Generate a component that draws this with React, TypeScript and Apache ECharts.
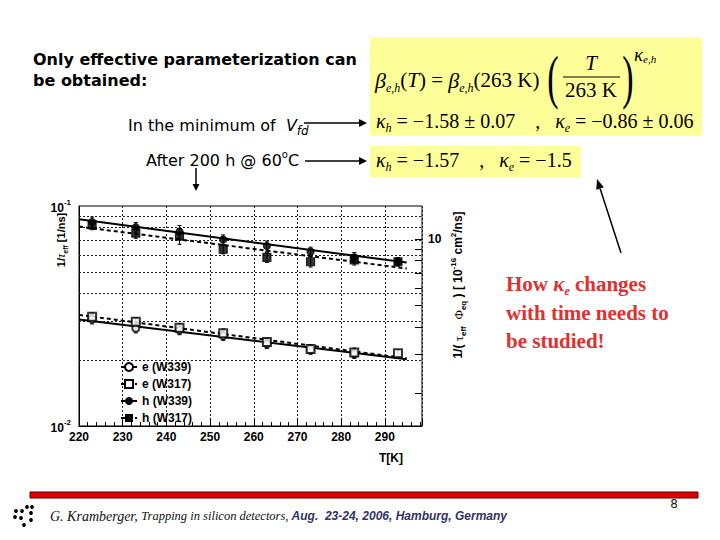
import React, { useEffect, useRef } from "react";
import * as echarts from "echarts";

// ---------- data ----------
const T_K = [223, 233, 243, 253, 263, 273, 283, 293];

const H339 = [0.0845, 0.0801, 0.0765, 0.0704, 0.0658, 0.062, 0.0584, 0.0558];
const H317 = [0.082, 0.0753, 0.073, 0.0636, 0.0584, 0.0558, 0.0569, 0.0558];
const E339 = [0.0306, 0.0278, 0.0273, 0.0257, 0.0236, 0.0222, 0.0213, null];
const E317 = [0.0314, 0.0298, 0.028, 0.0264, 0.0241, 0.0224, 0.0216, 0.0214];

const H339_ERR = [0.0045, 0.004, 0.005, 0.0035, 0.0035, 0.003, 0.003, 0.0025];
const H317_ERR = [0.004, 0.004, 0.006, 0.003, 0.003, 0.003, 0.003, 0.002];
const E339_ERR = [0.0015, 0.0013, 0.0013, 0.0012, 0.0011, 0.001, 0.001, null];
const E317_ERR = [0.0013, 0.0012, 0.0012, 0.0012, 0.001, 0.001, 0.001, 0.0008];

// fit lines: [T, value] at the ends of the drawn fits
const H339_FIT = [[220, 0.087], [295, 0.0553]];
const H317_FIT = [[220, 0.0806], [295, 0.052]];
const E339_FIT = [[220, 0.0305], [295, 0.0201]];
const E317_FIT = [[220, 0.032], [295, 0.0203]];

const SERIES_NAMES = ["e (W339)", "e (W317)", "h (W339)", "h (W317)"];
const X_TICKS_MIN = 220;
const X_MAX = 298.5;
const Y_MIN = 0.01;
const Y_MAX = 0.1;
const GRID_Y = [0.02, 0.03, 0.04, 0.05, 0.06, 0.07, 0.08, 0.09];
const RIGHT_MIN = 1.416;
const RIGHT_MAX = 14.16;
const RIGHT_TICKS = [2, 3, 4, 5, 6, 7, 8, 9, 10];
const RIGHT_LABELS = [10];

const AX_FONT = "Liberation Sans";
const SLIDE_FONT = "DejaVu Sans";
const SERIF = "Liberation Serif";

function pts(vals: (number | null)[]) {
  const out: number[][] = [];
  vals.forEach((v, i) => {
    if (v != null) out.push([T_K[i], v]);
  });
  return out;
}
function errs(vals: (number | null)[], e: (number | null)[]) {
  const out: number[][] = [];
  vals.forEach((v, i) => {
    const d = e[i];
    if (v != null && d != null) out.push([T_K[i], v - d, v + d]);
  });
  return out;
}

function renderErr(params: any, api: any) {
  const x = api.value(0);
  const p1 = api.coord([x, api.value(1)]);
  const p2 = api.coord([x, api.value(2)]);
  const st = { stroke: "#000", lineWidth: 1 };
  return {
    type: "group",
    children: [
      { type: "line", shape: { x1: p1[0], y1: p1[1], x2: p2[0], y2: p2[1] }, style: st },
      { type: "line", shape: { x1: p1[0] - 2, y1: p1[1], x2: p1[0] + 2, y2: p1[1] }, style: st },
      { type: "line", shape: { x1: p2[0] - 2, y1: p2[1], x2: p2[0] + 2, y2: p2[1] }, style: st },
    ],
  };
}

function arrow(x1: number, y1: number, x2: number, y2: number, head = 8, w = 4) {
  const ang = Math.atan2(y2 - y1, x2 - x1);
  const bx = x2 - head * Math.cos(ang);
  const by = y2 - head * Math.sin(ang);
  const nx = -Math.sin(ang) * w;
  const ny = Math.cos(ang) * w;
  return [
    { type: "line", shape: { x1, y1, x2: bx, y2: by }, style: { stroke: "#000", lineWidth: 1.5 } },
    {
      type: "polygon",
      shape: { points: [[x2, y2], [bx + nx, by + ny], [bx - nx, by - ny]] },
      style: { fill: "#000" },
    },
  ];
}

const kRich = (size: number) => ({
  k: { fontFamily: SERIF, fontSize: size, fontStyle: "italic", fill: "#000", lineHeight: 26, verticalAlign: "middle" },
  n: { fontFamily: SERIF, fontSize: size, fill: "#000", lineHeight: 26, verticalAlign: "middle" },
  s: { fontFamily: SERIF, fontSize: 12, fontStyle: "italic", fill: "#000", lineHeight: 12, verticalAlign: "bottom" },
});

export default function App() {
  const ref = useRef<HTMLDivElement>(null);
  useEffect(() => {
    const chart = echarts.init(ref.current!, null, { renderer: "svg" });

    const fitDefs = [
      { name: SERIES_NAMES[0], data: E339_FIT, dash: "solid", sym: "emptyCircle" },
      { name: SERIES_NAMES[1], data: E317_FIT, dash: [4, 3], sym: "emptyRect" },
      { name: SERIES_NAMES[2], data: H339_FIT, dash: "solid", sym: "circle" },
      { name: SERIES_NAMES[3], data: H317_FIT, dash: [4, 3], sym: "rect" },
    ];
    const ptDefs = [
      { name: SERIES_NAMES[0], v: E339, e: E339_ERR, sym: "emptyCircle", size: 7 },
      { name: SERIES_NAMES[1], v: E317, e: E317_ERR, sym: "emptyRect", size: 8 },
      { name: SERIES_NAMES[2], v: H339, e: H339_ERR, sym: "circle", size: 7 },
      { name: SERIES_NAMES[3], v: H317, e: H317_ERR, sym: "rect", size: 8 },
    ];

    const series: any[] = [];
    fitDefs.forEach((f, i) => {
      series.push({
        type: "line",
        name: f.name,
        data: f.data,
        showSymbol: false,
        symbol: f.sym,
        symbolSize: 7,
        color: "#000",
        itemStyle: { color: "#000", borderColor: "#000" },
        lineStyle: { color: "#000", width: 2, type: f.dash },
        z: 3,
        markLine:
          i === 0
            ? {
                silent: true,
                symbol: ["none", "none"],
                label: { show: false },
                lineStyle: { color: "#222", width: 1, type: [2, 2] },
                data: GRID_Y.map((y) => ({ yAxis: y })),
                z: 1,
              }
            : undefined,
      });
    });
    ptDefs.forEach((p) => {
      series.push({
        type: "custom",
        name: p.name,
        renderItem: renderErr,
        data: errs(p.v, p.e),
        encode: { x: 0, y: [1, 2] },
        z: 4,
      });
      series.push({
        type: "scatter",
        name: p.name,
        data: pts(p.v),
        symbol: p.sym,
        symbolSize: p.size,
        itemStyle: { color: "#000", borderColor: "#000", borderWidth: 1.2 },
        z: 5,
      });
    });

    const graphic: any[] = [
      // slide texts
      {
        type: "text",
        x: 33,
        y: 59,
        style: {
          text: "Only effective parameterization can",
          font: `bold 16px "${SLIDE_FONT}"`,
          fill: "#000",
          verticalAlign: "middle",
        },
      },
      {
        type: "text",
        x: 33,
        y: 80,
        style: {
          text: "be obtained:",
          font: `bold 16px "${SLIDE_FONT}"`,
          fill: "#000",
          verticalAlign: "middle",
        },
      },
      {
        type: "text",
        x: 128,
        y: 125,
        style: {
          text: "{n|In the minimum of  }{v|V}{s|fd}",
          verticalAlign: "middle",
          rich: {
            n: { fontFamily: SLIDE_FONT, fontSize: 16, fill: "#000", lineHeight: 24, verticalAlign: "middle" },
            v: { fontFamily: SLIDE_FONT, fontSize: 16, fontStyle: "italic", fill: "#000", lineHeight: 24, verticalAlign: "middle" },
            s: { fontFamily: SLIDE_FONT, fontSize: 12, fontStyle: "italic", fill: "#000", lineHeight: 12, verticalAlign: "bottom" },
          },
        },
      },
      {
        type: "text",
        x: 146,
        y: 160,
        style: {
          text: "{n|After 200 h @ 60}{o|o}{n|C}",
          verticalAlign: "middle",
          rich: {
            n: { fontFamily: SLIDE_FONT, fontSize: 16, fill: "#000", lineHeight: 22, verticalAlign: "middle" },
            o: { fontFamily: SLIDE_FONT, fontSize: 10, fill: "#000", lineHeight: 10, verticalAlign: "top" },
          },
        },
      },
      ...arrow(304, 123, 367, 123),
      ...arrow(305, 161, 367, 161),
      ...arrow(196, 168, 196, 191, 7, 3.5),
      // yellow boxes
      { type: "rect", shape: { x: 370, y: 37, width: 332, height: 98 }, style: { fill: "#FFFF99" }, z: -1 },
      { type: "rect", shape: { x: 370, y: 146, width: 211, height: 31 }, style: { fill: "#FFFF99" }, z: -1 },
      // formula
      {
        type: "text",
        x: 375,
        y: 80,
        style: {
          text: "{b|β}{s|e,h}{n|(}{i|T}{n|) = }{b|β}{s|e,h}{n|(263 K)}",
          verticalAlign: "middle",
          rich: {
            b: { fontFamily: SERIF, fontSize: 22, fontStyle: "italic", fill: "#000", lineHeight: 28, verticalAlign: "middle" },
            i: { fontFamily: SERIF, fontSize: 21, fontStyle: "italic", fill: "#000", lineHeight: 28, verticalAlign: "middle" },
            n: { fontFamily: SERIF, fontSize: 21, fill: "#000", lineHeight: 28, verticalAlign: "middle" },
            s: { fontFamily: SERIF, fontSize: 12, fontStyle: "italic", fill: "#000", lineHeight: 12, verticalAlign: "bottom" },
          },
        },
      },
      {
        type: "text",
        x: 553,
        y: 77,
        scaleY: 1.75,
        style: { text: "(", font: `34px "${SERIF}"`, fill: "#000", align: "center", verticalAlign: "middle" },
      },
      {
        type: "text",
        x: 628,
        y: 77,
        scaleY: 1.75,
        style: { text: ")", font: `34px "${SERIF}"`, fill: "#000", align: "center", verticalAlign: "middle" },
      },
      {
        type: "text",
        x: 591,
        y: 63,
        style: { text: "T", font: `italic 21px "${SERIF}"`, fill: "#000", align: "center", verticalAlign: "middle" },
      },
      { type: "line", shape: { x1: 563, y1: 77, x2: 620, y2: 77 }, style: { stroke: "#000", lineWidth: 1.2 } },
      {
        type: "text",
        x: 591,
        y: 90,
        style: { text: "263 K", font: `21px "${SERIF}"`, fill: "#000", align: "center", verticalAlign: "middle" },
      },
      {
        type: "text",
        x: 634,
        y: 54,
        style: {
          text: "{k|κ}{s|e,h}",
          verticalAlign: "middle",
          rich: {
            k: { fontFamily: SERIF, fontSize: 19, fontStyle: "italic", fill: "#000", lineHeight: 20, verticalAlign: "middle" },
            s: { fontFamily: SERIF, fontSize: 11, fontStyle: "italic", fill: "#000", lineHeight: 11, verticalAlign: "bottom" },
          },
        },
      },
      {
        type: "text",
        x: 376,
        y: 121,
        style: {
          text: "{k|κ}{s|h}{n| = −1.58 ± 0.07    ,   }{k|κ}{s|e}{n| = −0.86 ± 0.06}",
          verticalAlign: "middle",
          rich: kRich(20),
        },
      },
      {
        type: "text",
        x: 376,
        y: 160,
        style: {
          text: "{k|κ}{s|h}{n| = −1.57    ,   }{k|κ}{s|e}{n| = −1.5}",
          verticalAlign: "middle",
          rich: kRich(20),
        },
      },
      ...arrow(621, 253, 597, 179, 10, 4),
      // red note
      {
        type: "text",
        x: 506,
        y: 284,
        style: {
          text: "{r|How }{k|κ}{s|e}{r| changes}",
          verticalAlign: "middle",
          rich: {
            r: { fontFamily: SERIF, fontSize: 21, fontWeight: "bold", fill: "#E03030", lineHeight: 26, verticalAlign: "middle" },
            k: { fontFamily: SERIF, fontSize: 21, fontWeight: "bold", fontStyle: "italic", fill: "#E03030", lineHeight: 26, verticalAlign: "middle" },
            s: { fontFamily: SERIF, fontSize: 12, fontWeight: "bold", fontStyle: "italic", fill: "#E03030", lineHeight: 12, verticalAlign: "bottom" },
          },
        },
      },
      {
        type: "text",
        x: 506,
        y: 313,
        style: { text: "with time needs to", font: `bold 21px "${SERIF}"`, fill: "#E03030", verticalAlign: "middle" },
      },
      {
        type: "text",
        x: 506,
        y: 341,
        style: { text: "be studied!", font: `bold 21px "${SERIF}"`, fill: "#E03030", verticalAlign: "middle" },
      },
      // chart axis names
      {
        type: "text",
        x: 61,
        y: 240,
        rotation: Math.PI / 2,
        style: {
          text: "{a|1/}{t|τ}{s|eff}{a| [1/ns]}",
          align: "center",
          verticalAlign: "middle",
          rich: {
            a: { fontFamily: AX_FONT, fontSize: 11, fontWeight: "bold", fill: "#000", lineHeight: 16, verticalAlign: "middle" },
            t: { fontFamily: SERIF, fontSize: 12, fontStyle: "italic", fill: "#000", lineHeight: 16, verticalAlign: "middle" },
            s: { fontFamily: AX_FONT, fontSize: 7, fontWeight: "bold", fill: "#000", lineHeight: 8, verticalAlign: "bottom" },
          },
        },
      },
      {
        type: "text",
        x: 458,
        y: 285,
        rotation: Math.PI / 2,
        style: {
          text: "{a|1/( }{t|τ}{s|eff}{a|  }{t|Φ}{s|eq}{a| ) [ 10}{u|-16}{a| cm}{u|2}{a|/ns]}",
          align: "center",
          verticalAlign: "middle",
          rich: {
            a: { fontFamily: AX_FONT, fontSize: 12, fontWeight: "bold", fill: "#000", lineHeight: 18, verticalAlign: "middle" },
            t: { fontFamily: SERIF, fontSize: 13, fill: "#000", lineHeight: 18, verticalAlign: "middle" },
            s: { fontFamily: AX_FONT, fontSize: 8, fontWeight: "bold", fill: "#000", lineHeight: 8, verticalAlign: "bottom" },
            u: { fontFamily: AX_FONT, fontSize: 8, fontWeight: "bold", fill: "#000", lineHeight: 8, verticalAlign: "top" },
          },
        },
      },
      {
        type: "text",
        x: 403,
        y: 458,
        style: { text: "T[K]", font: `bold 12px "${AX_FONT}"`, fill: "#000", align: "right", verticalAlign: "middle" },
      },
      // footer
      { type: "rect", shape: { x: 30, y: 492, width: 668, height: 6 }, style: { fill: "#E00000", stroke: "#500", lineWidth: 1 } },
      {
        type: "text",
        x: 674,
        y: 504,
        style: { text: "8", font: `12px "${SLIDE_FONT}"`, fill: "#222", align: "center", verticalAlign: "middle" },
      },
      {
        type: "text",
        x: 50,
        y: 516,
        style: {
          text: "{a|G. Kramberger, }{b|Trapping in silicon detectors, }{c|Aug.  23-24, 2006, Hamburg, Germany}",
          verticalAlign: "middle",
          rich: {
            a: { fontFamily: SERIF, fontSize: 14, fontStyle: "italic", fill: "#111", verticalAlign: "middle" },
            b: { fontFamily: SERIF, fontSize: 12.5, fontStyle: "italic", fill: "#111", verticalAlign: "middle" },
            c: { fontFamily: AX_FONT, fontSize: 12, fontStyle: "italic", fontWeight: "bold", fill: "#333366", verticalAlign: "middle" },
          },
        },
      },
      ...[
        [27, 507], [32, 507], [16, 511], [22, 511], [31, 513], [15, 517], [21, 518], [31, 520], [24, 525],
      ].map((c) => ({ type: "circle", shape: { cx: c[0], cy: c[1], r: 1.9 }, style: { fill: "#000" } })),
    ];

    chart.setOption({
      animation: false,
      backgroundColor: "#fff",
      grid: {
        left: 79,
        right: 298,
        top: 206,
        bottom: 114,
        show: true,
        borderColor: "#000",
        borderWidth: 1,
        backgroundColor: "transparent",
      },
      legend: {
        data: SERIES_NAMES,
        orient: "vertical",
        left: 115,
        top: 356,
        itemWidth: 16,
        itemHeight: 10,
        itemGap: 5,
        textStyle: { fontFamily: AX_FONT, fontSize: 12, fontWeight: "bold", color: "#000" },
        selectedMode: false,
      },
      xAxis: {
        type: "value",
        min: X_TICKS_MIN,
        max: X_MAX,
        interval: 10,
        axisLine: { lineStyle: { color: "#000", width: 1 } },
        axisTick: { inside: true, length: 8, lineStyle: { color: "#000" } },
        minorTick: { show: true, splitNumber: 5, length: 4, lineStyle: { color: "#000" } },
        splitLine: { show: true, lineStyle: { color: "#222", width: 1, type: [2, 2] } },
        axisLabel: {
          fontFamily: AX_FONT,
          fontSize: 12,
          fontWeight: "bold",
          color: "#000",
          margin: 5,
          showMaxLabel: false,
          formatter: (v: number) => (v % 10 === 0 && v <= 290 ? String(v) : ""),
        },
      },
      yAxis: [
        {
          type: "log",
          logBase: 10,
          min: Y_MIN,
          max: Y_MAX,
          axisLine: { show: true, lineStyle: { color: "#000", width: 1 } },
          axisTick: { show: false },
          splitLine: { show: false },
          axisLabel: {
            margin: 8,
            formatter: (v: number) => `{b|10}{s|${Math.round(Math.log10(v))}}`,
            rich: {
              b: { fontFamily: AX_FONT, fontSize: 12, fontWeight: "bold", color: "#000", lineHeight: 16, verticalAlign: "bottom" },
              s: { fontFamily: AX_FONT, fontSize: 8, fontWeight: "bold", color: "#000", lineHeight: 8, verticalAlign: "top" },
            },
          },
        },
        {
          type: "log",
          logBase: 10,
          min: RIGHT_MIN,
          max: RIGHT_MAX,
          position: "right",
          axisLine: { show: false },
          axisTick: { show: true, inside: true, length: 7, customValues: RIGHT_TICKS, lineStyle: { color: "#000" } },
          splitLine: { show: false },
          axisLabel: {
            customValues: RIGHT_LABELS,
            fontFamily: AX_FONT,
            fontSize: 12,
            fontWeight: "bold",
            color: "#000",
            margin: 6,
            formatter: (v: number) => String(Math.round(v)),
          },
        },
      ],
      series,
      graphic,
    });
    return () => chart.dispose();
  }, []);
  return (
    <div
      ref={ref}
      style={{ position: "fixed", left: 0, top: 0, width: 720, height: 540, background: "#fff" }}
    />
  );
}
